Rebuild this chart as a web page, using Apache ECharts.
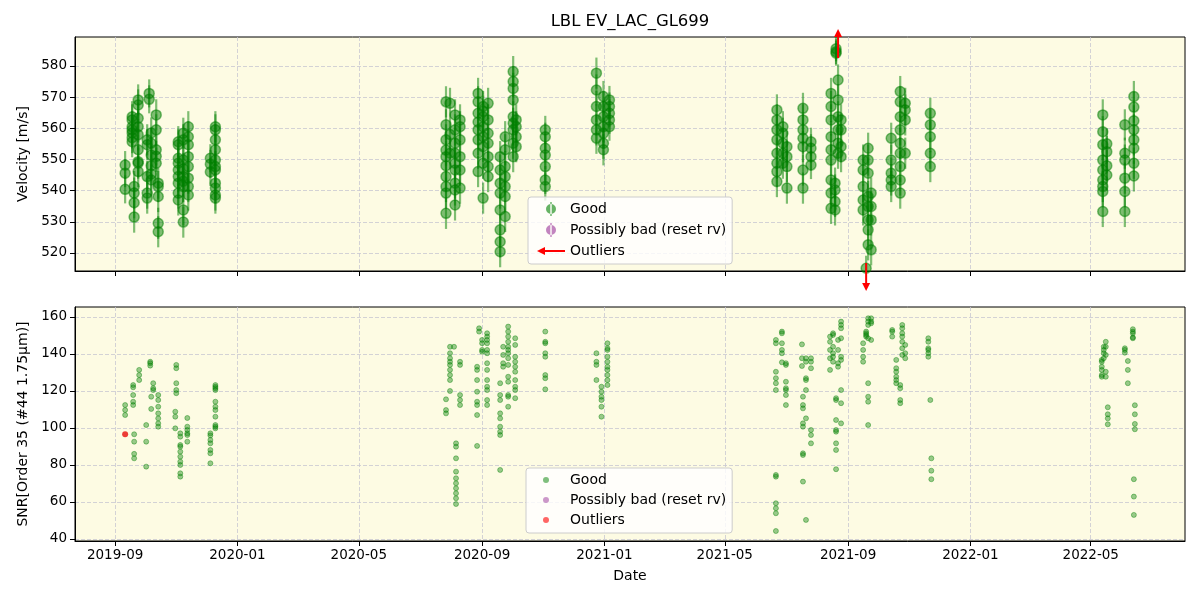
<!DOCTYPE html>
<html>
<head>
<meta charset="utf-8">
<title>LBL EV_LAC_GL699</title>
<script src="https://cdn.jsdelivr.net/npm/echarts@6.0.0/dist/echarts.min.js"></script>
<style>
  html, body { margin: 0; padding: 0; background: #fff; }
  #main { width: 1200px; height: 600px; }
</style>
</head>
<body>
<div id="main"></div>
<script>
// x ticks and y ticks
var dateTicks = ['2019-09-01', '2020-01-01', '2020-05-01', '2020-09-01', '2021-01-01',
  '2021-05-01', '2021-09-01', '2022-01-01', '2022-05-01']
var velocityTicks = [520, 530, 540, 550, 560, 570, 580]
var snrTicks = [40, 60, 80, 100, 120, 140, 160]

// velocity per night (m/s) with one error per night
var rvDates = [
  '2019-09-11', '2019-09-18', '2019-09-20', '2019-09-24', '2019-10-03', '2019-10-05',
  '2019-10-07', '2019-10-12', '2019-10-14', '2019-11-03', '2019-11-08', '2019-11-13',
  '2019-12-05', '2019-12-10',
  '2020-07-27', '2020-07-31', '2020-08-05', '2020-08-10', '2020-08-28', '2020-09-02',
  '2020-09-07', '2020-09-19', '2020-09-24', '2020-10-02', '2020-10-05', '2020-11-03',
  '2020-12-24', '2020-12-31', '2021-01-06',
  '2021-06-22', '2021-06-28', '2021-07-02', '2021-07-18', '2021-07-26', '2021-08-15',
  '2021-08-19', '2021-08-20', '2021-08-22', '2021-08-25', '2021-09-16', '2021-09-19',
  '2021-09-21', '2021-09-24', '2021-10-14', '2021-10-23', '2021-10-28', '2021-11-22',
  '2022-05-13', '2022-05-17', '2022-06-04', '2022-06-13'
]
var rvValues = [
  [548.2, 545.6, 540.4],
  [563.7, 562.7, 559.5, 558.5, 555.7, 560.5, 557.0],
  [541.3, 539.2, 536.1, 531.5],
  [569.1, 567.5, 563.2, 560.5, 557.9, 553.1, 549.3, 548.8, 546.1],
  [556.3, 554.7, 544.5, 539.2, 537.6],
  [571.2, 569.3],
  [558.5, 555.2, 551.4, 548.0, 545.3, 543.4],
  [564.3, 559.5, 553.1, 548.8, 551.0],
  [542.4, 541.3, 538.1, 529.5, 526.8],
  [555.7, 554.7, 550.4, 548.8, 546.6, 544.5, 542.4, 539.2, 537.0],
  [558.4, 556.3, 549.8, 544.5, 541.3, 533.8, 529.9, 547.0, 543.0],
  [560.5, 557.3, 554.7, 550.9, 547.7, 544.0, 541.3, 538.6],
  [550.4, 548.5, 546.0],
  [560.5, 559.5, 556.3, 553.1, 549.8, 547.7, 546.6, 542.4, 540.8, 538.6, 537.6],
  [568.5, 561.1, 556.3, 550.9, 544.5, 541.3, 539.2, 532.7, 548.0, 553.0],
  [568.0, 558.0, 552.0],
  [564.3, 559.5, 555.2, 552.0, 548.8, 546.6, 542.4, 540.2, 535.4],
  [562.7, 560.5, 556.3, 550.9, 546.6, 540.8],
  [571.2, 568.5, 564.8, 559.5, 556.3, 552.0, 546.1, 562.0],
  [567.0, 563.7, 560.5, 557.3, 554.1, 548.8, 537.6, 565.5],
  [568.0, 562.7, 558.4, 555.2, 550.9, 547.7, 544.5],
  [550.9, 546.6, 542.4, 539.2, 533.8, 527.4, 523.6, 520.4],
  [557.3, 553.1, 547.7, 544.5, 541.3, 538.1, 531.7],
  [578.2, 575.0, 572.8, 569.1, 563.7, 561.6, 559.5, 555.2, 550.9],
  [562.7, 560.5, 557.3, 554.1],
  [559.5, 557.3, 553.6, 551.4, 547.7, 543.4, 541.3],
  [577.7, 572.3, 567.0, 562.7, 559.5, 556.8],
  [570.2, 567.0, 563.7, 560.5, 558.4, 555.2, 553.1],
  [569.1, 567.0, 564.8, 562.7, 560.5],
  [565.9, 562.7, 559.5, 556.3, 552.0, 548.8, 546.1, 542.9],
  [560.5, 558.4, 555.2, 552.0, 548.8],
  [554.1, 550.9, 547.7, 540.8],
  [566.4, 562.7, 559.5, 556.8, 554.1, 546.6, 540.8],
  [555.7, 553.6, 550.9, 548.2],
  [571.2, 567.0, 562.7, 557.3, 553.1, 549.8, 543.4, 539.2, 534.3],
  [542.4, 540.2, 536.5, 533.8],
  [584.6, 584.1, 585.5],
  [575.5, 569.1, 563.7, 559.5, 555.2, 552.0],
  [562.7, 559.5, 554.1, 550.9],
  [549.8, 546.6, 541.3, 537.0, 533.8],
  [515.1],
  [553.6, 549.8, 545.6, 538.1, 534.9, 530.6, 527.4, 522.6],
  [539.2, 534.9, 530.6, 521.0],
  [556.8, 549.8, 545.6, 543.4, 541.3],
  [571.8, 568.5, 563.7, 559.5, 555.2, 552.0, 547.7, 543.4, 539.2],
  [568.0, 565.9, 562.7, 552.0],
  [564.8, 561.1, 557.3, 552.0, 547.7],
  [564.3, 558.9, 554.7, 549.8, 546.6, 543.4, 541.3, 539.7, 533.3],
  [555.0, 552.5, 548.0, 545.0],
  [561.1, 552.0, 549.8, 544.0, 539.7, 533.3],
  [570.2, 566.8, 562.4, 559.5, 556.3, 553.6, 548.8, 544.7]
]
var rvErrors = [
  4.5, 5, 5, 5, 5, 4.5, 5, 5, 5, 5, 5, 5, 4.5, 5,
  5, 5, 5, 5, 5, 5, 5, 5, 5, 5, 5, 4.5, 5, 5, 4.5,
  5, 5, 5, 5, 4.5, 5, 5, 4, 5, 5, 5, 4, 5, 5, 5, 5, 5, 5,
  5, 5, 5, 5
]
// velocity outliers outside the plotted range (1 = above, -1 = below)
var rvOutlierDates = ['2021-08-22', '2021-09-19']
var rvOutlierSide = [1, -1]

// SNR per night
var snrDates = [
  '2019-09-11', '2019-09-19', '2019-09-20', '2019-09-25', '2019-10-02', '2019-10-06',
  '2019-10-07', '2019-10-09', '2019-10-14', '2019-10-31', '2019-11-01', '2019-11-05',
  '2019-11-12', '2019-12-05', '2019-12-10',
  '2020-07-27', '2020-07-31', '2020-08-04', '2020-08-06', '2020-08-10', '2020-08-27',
  '2020-08-29', '2020-09-01', '2020-09-06', '2020-09-19', '2020-09-22', '2020-09-27',
  '2020-10-04', '2020-11-03', '2020-12-24', '2020-12-29', '2021-01-04',
  '2021-06-21', '2021-06-27', '2021-07-01', '2021-07-17', '2021-07-18', '2021-07-21',
  '2021-07-26', '2021-08-14', '2021-08-17', '2021-08-20', '2021-08-22', '2021-08-25',
  '2021-09-16', '2021-09-19', '2021-09-21', '2021-09-24', '2021-10-15', '2021-10-19',
  '2021-10-23', '2021-10-25', '2021-10-28', '2021-11-20', '2021-11-22', '2021-11-23',
  '2022-05-12', '2022-05-14', '2022-05-16', '2022-05-18', '2022-06-04', '2022-06-07',
  '2022-06-12', '2022-06-13', '2022-06-14'
]
var snrValues = [
  [112.4, 109.7, 107.0],
  [123.2, 122.0, 117.8, 114.2, 112.4],
  [96.6, 92.6, 86.0, 83.6],
  [131.4, 128.6, 125.9],
  [101.6, 92.6, 79.1],
  [135.8, 135.0, 133.7],
  [116.9, 110.3],
  [124.2, 121.5, 120.5],
  [117.8, 115.1, 111.5, 107.9, 105.2, 102.5, 100.7],
  [108.8, 106.1, 99.8],
  [134.1, 132.3, 124.2, 120.5, 118.8],
  [97.1, 95.3, 90.8, 89.9, 87.2, 84.5, 81.8, 80.0, 75.5, 73.7],
  [105.4, 100.7, 98.9, 97.1, 96.2, 92.6],
  [80.9, 86.3, 88.1, 91.7, 93.5, 96.0, 97.1],
  [123.2, 122.3, 121.5, 120.5, 114.2, 111.5, 109.7, 106.1, 101.6, 100.7, 99.8],
  [115.5, 109.7, 107.9],
  [143.9, 140.4, 137.7, 135.8, 134.1, 131.4, 128.6, 125.9, 120.0],
  [143.9],
  [91.7, 89.9, 83.6, 76.4, 72.8, 70.1, 67.4, 64.7, 62.0, 58.9],
  [135.8, 134.1, 117.8, 115.1, 112.4],
  [133.1, 131.4, 125.9, 119.6, 114.2, 112.4, 107.0, 90.3],
  [153.9, 152.1],
  [147.6, 145.8, 142.2, 141.2],
  [151.2, 149.4, 147.6, 145.8, 142.2, 140.4, 135.0, 131.4, 125.9, 122.3, 120.5, 115.1, 112.4],
  [124.2, 117.8, 115.1, 107.9, 105.2, 100.7, 98.0, 96.2, 77.3],
  [143.9, 139.5, 135.0, 133.1],
  [154.8, 152.1, 149.4, 146.6, 143.9, 142.2, 140.4, 137.7, 134.1, 127.7, 125.0, 117.8, 116.9, 111.5],
  [148.5, 144.9, 138.5, 135.8, 133.1, 130.4, 125.9, 122.3, 120.5, 116.1],
  [152.1, 146.6, 145.8, 140.4, 138.5, 128.6, 126.9, 120.9],
  [140.4, 135.8, 134.1, 125.9],
  [122.3, 119.6, 116.9, 115.1, 111.5, 106.1],
  [145.8, 143.1, 142.2, 138.5, 135.8, 133.1, 131.4, 128.6, 125.9, 123.2],
  [147.6, 145.8, 130.4, 126.9, 124.2, 120.5, 74.6, 73.7, 59.3, 56.6, 53.9, 44.3],
  [152.1, 151.2, 145.8, 142.2, 140.4, 135.5],
  [135.0, 134.1, 125.0, 121.5, 120.5, 117.8, 112.4],
  [145.2, 137.7, 133.5],
  [116.9, 112.4, 110.6, 102.5, 100.7, 86.3, 85.4, 71.0],
  [137.7, 135.8, 126.9, 125.9, 120.5, 105.2, 50.3],
  [137.7, 135.8, 132.3, 98.9, 96.2, 91.7],
  [149.4, 146.6, 142.2, 137.7, 131.4],
  [151.2, 150.3, 143.9, 140.4, 138.5, 135.8],
  [116.1, 115.1, 104.3, 98.9, 98.0, 91.7, 88.1, 77.7],
  [147.6, 142.2, 135.0, 133.1],
  [157.5, 155.7, 153.9, 148.5, 138.5, 136.8, 120.5, 113.4, 102.5],
  [145.8, 142.2, 138.5, 135.8],
  [152.1, 151.2, 150.3, 149.4],
  [159.3, 157.5, 155.7, 148.5, 124.2, 116.9, 114.2, 101.6],
  [159.3, 157.5, 156.6, 147.6],
  [153.0, 152.1, 149.4],
  [136.8, 132.3, 130.4, 127.7, 125.9, 124.2],
  [123.2, 121.5, 115.1, 113.4],
  [155.7, 153.9, 151.2, 149.4, 146.6, 143.1, 139.5],
  [144.9, 140.4, 137.7],
  [148.5, 146.6, 143.1, 142.2, 140.4, 138.5],
  [115.1],
  [83.6, 76.9, 72.3],
  [136.8, 135.8, 133.1, 131.4, 128.6, 127.7],
  [143.9, 142.2, 140.4, 137.7],
  [146.6, 143.9, 139.5, 130.4, 127.7],
  [111.2, 107.4, 105.2, 102.0],
  [143.1, 142.2, 140.7],
  [136.2, 131.4, 124.2],
  [153.4, 152.1, 151.2, 149.0, 148.5],
  [72.3, 62.9, 53.0],
  [112.3, 107.4, 102.2, 99.3]
]
var snrOutlierDates = ['2019-09-11']
var snrOutlierValues = [96.6]

function toTime(s) {
  var p = s.split('-')
  return Date.UTC(+p[0], +p[1] - 1, +p[2])
}
function pad(n) {
  return n < 10 ? '0' + n : '' + n
}

var rvPoints = []
rvDates.forEach(function (d, i) {
  rvValues[i].forEach(function (v) {
    rvPoints.push([toTime(d), v, rvErrors[i]])
  })
})
var snrPoints = []
snrDates.forEach(function (d, i) {
  snrValues[i].forEach(function (v) {
    snrPoints.push([toTime(d), v])
  })
})
var rvOutliers = rvOutlierDates.map(function (d, i) {
  return [toTime(d), rvOutlierSide[i]]
})
var snrOutliers = snrOutlierDates.map(function (d, i) {
  return [toTime(d), snrOutlierValues[i]]
})

var GREEN = 'rgba(0,128,0,0.5)'
var PURPLE = 'rgba(128,0,128,0.5)'
var RED_A = 'rgba(255,0,0,0.6)'
var xMin = Date.UTC(2019, 6, 23)
var xMax = Date.UTC(2022, 7, 3)
var xTickValues = dateTicks.map(toTime)
var textBlack = '#000'
var gridLine = { show: true, lineStyle: { color: '#c8c8d2', type: [4, 2], width: 0.8 } }

var errIcon = 'path://M4.3,0h1.4v14h-1.4z M0,7a5,5 0 1,0 10,0a5,5 0 1,0 -10,0z'
var arrowIcon = 'path://M0,4L8,0V3H28V5H8V8Z'

function makeXAxis(gridIndex, showLabels) {
  return {
    type: 'value',
    gridIndex: gridIndex,
    min: xMin,
    max: xMax,
    name: showLabels ? 'Date' : '',
    nameLocation: 'middle',
    nameGap: 28,
    nameTextStyle: { fontSize: 14, color: textBlack },
    axisLine: { show: true, onZero: false, lineStyle: { color: '#000', width: 1 } },
    axisTick: { show: true, length: 5, customValues: xTickValues, lineStyle: { color: '#000' } },
    axisLabel: {
      show: showLabels,
      customValues: xTickValues,
      margin: 7,
      fontSize: 13.5,
      color: textBlack,
      formatter: function (v) {
        var d = new Date(v)
        return d.getUTCFullYear() + '-' + pad(d.getUTCMonth() + 1)
      }
    },
    splitLine: gridLine
  }
}

function makeYAxis(gridIndex, name, min, max, ticks, gap) {
  return {
    type: 'value',
    gridIndex: gridIndex,
    min: min,
    max: max,
    name: name,
    nameLocation: 'middle',
    nameGap: gap,
    nameTextStyle: { fontSize: 14, color: textBlack },
    axisLine: { show: true, lineStyle: { color: '#000', width: 1 } },
    axisTick: { show: true, length: 5, customValues: ticks, lineStyle: { color: '#000' } },
    axisLabel: { customValues: ticks, margin: 8, fontSize: 13.5, color: textBlack },
    splitLine: gridLine
  }
}

var chart = echarts.init(document.getElementById('main'))
var option = {
  animation: false,
  backgroundColor: '#fff',
  textStyle: { fontFamily: 'DejaVu Sans' },
  title: {
    text: 'LBL EV_LAC_GL699',
    left: 625,
    top: 8,
    textAlign: 'center',
    textStyle: { fontSize: 16.5, fontWeight: 'normal', color: textBlack }
  },
  grid: [
    { left: 75, top: 37, width: 1110, height: 234, show: true, backgroundColor: '#fdfbe3', borderColor: '#000', borderWidth: 1 },
    { left: 75, top: 307, width: 1110, height: 234, show: true, backgroundColor: '#fdfbe3', borderColor: '#000', borderWidth: 1 }
  ],
  xAxis: [makeXAxis(0, false), makeXAxis(1, true)],
  yAxis: [
    makeYAxis(0, 'Velocity [m/s]', 514.2, 589.3, velocityTicks, 41),
    makeYAxis(1, 'SNR[Order 35 (#44 1.75μm)]', 38.9, 165.4, snrTicks, 45)
  ],
  legend: [
    {
      orient: 'vertical',
      left: 528,
      top: 197,
      padding: [5, 6, 6, 9],
      itemWidth: 28,
      itemHeight: 14,
      itemGap: 7,
      backgroundColor: 'rgba(255,255,255,0.8)',
      borderColor: '#cccccc',
      borderWidth: 1,
      borderRadius: 3,
      textStyle: { fontSize: 14, color: textBlack },
      data: [
        { name: 'Good', icon: errIcon, itemStyle: { color: 'rgba(0,128,0,0.6)' } },
        { name: 'Possibly bad (reset rv)', icon: errIcon, itemStyle: { color: 'rgba(128,0,128,0.6)' } },
        { name: 'Outliers', icon: arrowIcon, itemStyle: { color: 'red' } }
      ]
    },
    {
      orient: 'vertical',
      left: 526,
      top: 468,
      padding: [5, 6, 6, 17],
      itemWidth: 38,
      itemHeight: 6,
      itemGap: 6,
      backgroundColor: 'rgba(255,255,255,0.8)',
      borderColor: '#cccccc',
      borderWidth: 1,
      borderRadius: 3,
      textStyle: { fontSize: 14, color: textBlack },
      data: [
        { name: 'Good', icon: 'circle', itemStyle: { color: GREEN } },
        { name: 'Possibly bad (reset rv)', icon: 'circle', itemStyle: { color: PURPLE } },
        { name: 'Outliers', icon: 'circle', itemStyle: { color: RED_A } }
      ]
    }
  ],
  series: [
    // error bars
    {
      name: 'Good',
      type: 'custom',
      xAxisIndex: 0,
      yAxisIndex: 0,
      clip: true,
      z: 2,
      encode: { x: 0, y: 1 },
      data: rvPoints,
      renderItem: function (params, api) {
        var x = api.value(0)
        var y = api.value(1)
        var e = api.value(2)
        var p1 = api.coord([x, y - e])
        var p2 = api.coord([x, y + e])
        return {
          type: 'line',
          shape: { x1: p1[0], y1: p1[1], x2: p2[0], y2: p2[1] },
          style: { stroke: GREEN, lineWidth: 2.2 }
        }
      }
    },
    {
      name: 'Good',
      type: 'scatter',
      xAxisIndex: 0,
      yAxisIndex: 0,
      z: 3,
      symbolSize: 10,
      itemStyle: { color: GREEN, borderColor: GREEN, borderWidth: 1.5, opacity: 1 },
      data: rvPoints
    },
    {
      name: 'Possibly bad (reset rv)',
      type: 'scatter',
      xAxisIndex: 0,
      yAxisIndex: 0,
      itemStyle: { color: PURPLE },
      data: []
    },
    // arrows for velocities outside the plotted range
    {
      name: 'Outliers',
      type: 'custom',
      xAxisIndex: 0,
      yAxisIndex: 0,
      clip: false,
      z: 5,
      data: rvOutliers,
      renderItem: function (params, api) {
        var cs = params.coordSys
        var x = api.coord([api.value(0), 550])[0]
        var side = api.value(1)
        var y0, y1
        if (side > 0) {
          y0 = cs.y + 21
          y1 = cs.y - 8
        } else {
          y0 = cs.y + cs.height - 8
          y1 = cs.y + cs.height + 20
        }
        var dir = side > 0 ? -1 : 1
        return {
          type: 'group',
          children: [
            {
              type: 'line',
              shape: { x1: x, y1: y0, x2: x, y2: y1 - dir * 6 },
              style: { stroke: 'red', lineWidth: 2 }
            },
            {
              type: 'polygon',
              shape: { points: [[x - 4, y1 - dir * 8], [x + 4, y1 - dir * 8], [x, y1]] },
              style: { fill: 'red' }
            }
          ]
        }
      }
    },
    {
      name: 'Good',
      type: 'scatter',
      xAxisIndex: 1,
      yAxisIndex: 1,
      symbolSize: 5,
      itemStyle: { color: GREEN, borderColor: GREEN, borderWidth: 1 },
      data: snrPoints
    },
    {
      name: 'Possibly bad (reset rv)',
      type: 'scatter',
      xAxisIndex: 1,
      yAxisIndex: 1,
      itemStyle: { color: PURPLE },
      data: []
    },
    {
      name: 'Outliers',
      type: 'scatter',
      xAxisIndex: 1,
      yAxisIndex: 1,
      z: 4,
      symbolSize: 6,
      itemStyle: { color: 'rgba(230,0,0,0.95)' },
      data: snrOutliers
    }
  ]
}
chart.setOption(option)
</script>
</body>
</html>
